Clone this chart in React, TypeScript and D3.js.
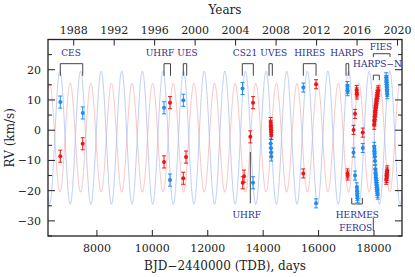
import React from 'react';
import * as d3 from 'd3';

// ---- orbit model ----
const PERIOD = 744;        // days
const T_PEAK = 6665;       // BJD-2440000 of a primary maximum
const GAMMA = -2.5;        // km/s
const K_PRIMARY = 22.0;    // km/s
const K_SECONDARY = 18.0;  // km/s

// ---- observations: [BJD-2440000, RV km/s, error km/s] ----
const primaryObs: [number, number, number][] = [
  [6679, 9.3, 2], [7488, 5.7, 2],
  [10422, 7.4, 2], [10638, -16.5, 2],
  [11118, 9.9, 2],
  [13255, 13.8, 2], [13634, -17.4, 2],
  [14270, -4.4, 1.5], [14280, -5.9, 1.5], [14288, -7.4, 1.5], [14294, -8.7, 1.5],
  [15449, 14.1, 1.5], [15908, -24.2, 1.5],
  [17040, 14.6, 1.5], [17044, 13.6, 1.5], [17050, 12.9, 1.5],
  [17261, -7.4, 1.5], [17315, -15.0, 1.5], [17380, -18.9, 1.5], [17388, -20.0, 1.5],
  [17394, -21.0, 1.5], [17400, -21.8, 1.5], [17406, -22.5, 1.5], [17593, -5.9, 1.5],
  [18008, -5.5, 1.5], [18014, -6.6, 1.5], [18020, -7.6, 1.5], [18027, -8.7, 1.5],
  [18035, -10.2, 1.5], [18046, -12.9, 1.5], [18055, -14.1, 1.5], [18063, -15.0, 1.5],
  [18070, -15.9, 1.5], [18078, -16.6, 1.5], [18086, -17.4, 1.5], [18094, -18.1, 1.5],
  [18102, -18.8, 1.5], [18110, -19.5, 1.5], [18118, -20.1, 1.5], [18126, -20.7, 1.5],
  [18134, -21.3, 1.5],
  [18440, 17.5, 1.5], [18447, 16.6, 1.5], [18452, 15.8, 1.5], [18458, 15.0, 1.5],
  [18463, 14.3, 1.5], [18468, 13.5, 1.5], [18473, 12.7, 1.5], [18478, 11.9, 1.5],
];

const secondaryObs: [number, number, number][] = [
  [6679, -8.6, 2], [7488, -4.5, 2],
  [10422, -10.5, 2], [10638, 9.1, 2],
  [11118, -15.9, 2], [11216, -8.9, 2],
  [13262, -17.4, 2], [13310, -15.2, 2], [13634, 9.1, 2],
  [13536, -2.2, 2],
  [14268, 2.7, 1.5], [14274, 1.8, 1.5], [14280, 0.9, 1.5], [14285, 0.1, 1.5],
  [14290, -0.7, 1.5], [14296, -1.6, 1.5],
  [15449, -14.3, 1.5], [15908, 15.2, 1.5],
  [17044, -14.3, 1.5], [17050, -15.0, 1.5],
  [17261, 0.1, 1.5], [17315, 5.4, 1.5], [17372, 13.3, 1.5], [17378, 12.5, 1.5],
  [17384, 11.8, 1.5], [17593, -0.8, 1.5],
  [18005, 1.8, 1.5], [18012, 2.9, 1.5], [18020, 3.6, 1.5], [18028, 4.5, 1.5],
  [18035, 5.1, 1.5], [18042, 5.9, 1.5], [18050, 6.6, 1.5], [18058, 7.2, 1.5],
  [18066, 7.9, 1.5], [18075, 8.6, 1.5], [18083, 9.1, 1.5], [18092, 9.8, 1.5],
  [18101, 10.4, 1.5], [18110, 11.0, 1.5], [18120, 11.6, 1.5], [18131, 12.1, 1.5],
  [18143, 12.7, 1.5], [18156, 13.2, 1.5],
  [18440, -16.4, 1.5], [18450, -15.8, 1.5], [18458, -15.2, 1.5], [18465, -14.6, 1.5],
  [18472, -14.0, 1.5], [18480, -13.3, 1.5],
];

// ---- instrument annotations ----
// top brackets: [label, labelT, bracketStart, bracketEnd]
const topInstruments: [string, number, number, number][] = [
  ['CES', 7065, 6679, 7488],
  ['UHRF', 10277, 10422, 10656],
  ['UES', 11270, 11118, 11241],
  ['CS21', 13345, 13247, 13645],
  ['UVES', 14381, 14211, 14330],
  ['HIRES', 15680, 15449, 15908],
  ['HARPS', 17026, 16990, 17088],
];

const yearTicks = [1988, 1992, 1996, 2000, 2004, 2008, 2012, 2016, 2020];
const dayTicks = [8000, 10000, 12000, 14000, 16000, 18000];
const rvTicks = [-30, -20, -10, 0, 10, 20];

const W = 415;
const H = 277;
const FONT = '"DejaVu Serif", serif';
const BLUE = '#1f8cf0';
const RED = '#ee1515';
const LABEL = '#2c2c90';
const BRACKET = '#444';

const toYear = (t: number) => 2000 + (t - 11544.5) / 365.25;

function App() {
  const x = d3.scaleLinear().domain([6235, 19010]).range([48, 402]);
  const y = d3.scaleLinear().domain([-35, 30]).range([236, 39.5]);
  const yr = d3.scaleLinear().domain([toYear(6235), toYear(19010)]).range([48, 402]);
  const [x0, x1] = x.range();
  const [y0, y1] = y.range();

  const samples = d3.range(6235, 19012, 3);
  const phase = (t: number) => Math.cos((2 * Math.PI * (t - T_PEAK)) / PERIOD);
  const line = d3.line<number>().x((t) => x(t));
  const primaryPath = line.y((t) => y(GAMMA + K_PRIMARY * phase(t)))(samples) || '';
  const secondaryPath = line.y((t) => y(GAMMA - K_SECONDARY * phase(t)))(samples) || '';

  const minorRv = d3.range(-35, 30.1, 5);

  const drawObs = (obs: [number, number, number][], color: string) =>
    obs.map(([t, v, e], i) => (
      <g key={i} stroke={color} fill={color} strokeWidth={1}>
        <line x1={x(t)} x2={x(t)} y1={y(v - e)} y2={y(v + e)} />
        <line x1={x(t) - 2} x2={x(t) + 2} y1={y(v - e)} y2={y(v - e)} />
        <line x1={x(t) - 2} x2={x(t) + 2} y1={y(v + e)} y2={y(v + e)} />
        <circle cx={x(t)} cy={y(v)} r={2} stroke="none" />
      </g>
    ));

  const bracketDown = (a: number, b: number, top: number, bottom: number) =>
    `M${x(a)},${y(bottom)}V${y(top)}H${x(b)}V${y(bottom)}`;

  return (
    <svg width={W} height={H} style={{ position: 'absolute', left: 0, top: 0, background: '#fff' }}
      fontFamily={FONT}>
      <defs>
        <clipPath id="plot-clip">
          <rect x={x0} y={y1} width={x1 - x0} height={y0 - y1} />
        </clipPath>
      </defs>

      <g clipPath="url(#plot-clip)" fill="none" strokeWidth={0.8}>
        <path d={secondaryPath} stroke="#f6b4b4" />
        <path d={primaryPath} stroke="#a9bff4" />
      </g>

      {/* instrument brackets & labels */}
      <g fill="none" stroke={BRACKET} strokeWidth={1}>
        {topInstruments.map(([name, , a, b]) => (
          <path key={name} d={bracketDown(a, b, 22, 18)} />
        ))}
        <path d={bracketDown(17975, 18577, 25.3, 24.2)} />
        <path d={bracketDown(17975, 18191, 18.2, 16.5)} />
        <path d={bracketDown(17196, 17578, -24.4, -22.4)} />
        <line x1={x(13536)} x2={x(13536)} y1={y(-7.2)} y2={y(-24.2)} />
        <line x1={x(17975)} x2={x(17975)} y1={y(-29)} y2={y(-33.3)} />
      </g>
      <g fill={LABEL} fontSize={9} textAnchor="middle">
        {topInstruments.map(([name, lt]) => (
          <text key={name} x={x(lt)} y={y(24.6)}>{name}</text>
        ))}
        <text x={x(18253)} y={y(26.4)}>FIES</text>
        <text x={x(18126)} y={y(20.9)}>HARPS−N</text>
        <text x={x(17398)} y={y(-29.1)}>HERMES</text>
        <text x={x(17340)} y={y(-33.2)}>FEROS</text>
        <text x={x(13406)} y={y(-29.1)}>UHRF</text>
      </g>

      {drawObs(primaryObs, BLUE)}
      {drawObs(secondaryObs, RED)}

      {/* frame and ticks */}
      <g stroke="#222" strokeWidth={1}>
        {minorRv.map((v) => {
          const len = v % 10 === 0 ? 7 : 4;
          return (
            <g key={v}>
              <line x1={x0} x2={x0 + len} y1={y(v)} y2={y(v)} />
              <line x1={x1} x2={x1 - len} y1={y(v)} y2={y(v)} />
            </g>
          );
        })}
        {dayTicks.map((t) => (
          <line key={t} x1={x(t)} x2={x(t)} y1={y0} y2={y0 - 6} />
        ))}
        {yearTicks.map((yy) => (
          <line key={yy} x1={yr(yy)} x2={yr(yy)} y1={y1} y2={y1 + 6} />
        ))}
        <rect x={x0} y={y1} width={x1 - x0} height={y0 - y1} fill="none" strokeWidth={1.3} />
      </g>

      <g fill="#222" fontSize={11}>
        {rvTicks.map((v) => (
          <text key={v} x={x0 - 7} y={y(v) + 4} textAnchor="end">
            {v < 0 ? `−${-v}` : v}
          </text>
        ))}
        {dayTicks.map((t) => (
          <text key={t} x={x(t)} y={251.5} textAnchor="middle">{t}</text>
        ))}
        {yearTicks.map((yy) => (
          <text key={yy} x={yr(yy)} y={34.3} textAnchor="middle">{yy}</text>
        ))}
      </g>

      <g fill="#222" fontSize={12} textAnchor="middle">
        <text x={(x0 + x1) / 2} y={13.5}>Years</text>
        <text x={(x0 + x1) / 2} y={270}>BJD−2440000 (TDB), days</text>
        <text transform={`translate(14,${(y0 + y1) / 2}) rotate(-90)`}>RV (km/s)</text>
      </g>
    </svg>
  );
}

export default App;
